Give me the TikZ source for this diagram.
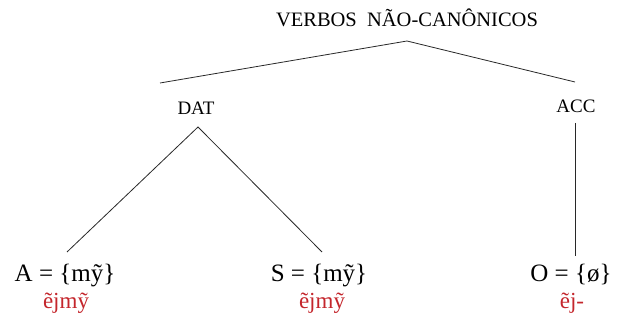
\documentclass[tikz,border=0pt]{standalone}
\usepackage{fontspec}
\setmainfont{Liberation Serif}
\definecolor{redtxt}{RGB}{196,38,44}
\definecolor{linec}{RGB}{40,40,40}
\begin{document}
\begin{tikzpicture}[x=1pt,y=1pt,
  lbl/.style={anchor=base,inner sep=0pt,font=\fontsize{19}{22}\selectfont},
  leaf/.style={anchor=base,inner sep=0pt,font=\fontsize{25}{30}\selectfont},
  form/.style={anchor=base,inner sep=0pt,text=redtxt,font=\fontsize{23}{28}\selectfont},
  branch/.style={draw=linec,line width=0.8pt}]
\useasboundingbox (0,0) rectangle (619,-320);
\node[lbl,font=\fontsize{20.5}{23}\selectfont] (title) at (407,-27) {VERBOS\ \ NÃO-CANÔNICOS};
\node[lbl] (dat) at (196,-115) {DAT};
\node[lbl] (acc) at (576,-113) {ACC};
\node[leaf] (a) at (65,-282) {A = \{mỹ\}};
\node[leaf] (s) at (319,-282) {S = \{mỹ\}};
\node[leaf] (o) at (571,-282) {O = \{ø\}};
\node[form] (fa) at (66,-309) {ẽjmỹ};
\node[form] (fs) at (322,-309) {ẽjmỹ};
\node[form] (fo) at (572,-309) {ẽj-};
\coordinate (tapex) at (407,-41);
\coordinate (tl) at (160,-83);
\coordinate (tr) at (575,-82);
\coordinate (dapex) at (198,-127);
\coordinate (al) at (67,-252);
\coordinate (sr) at (322,-252);
\coordinate (atop) at (575,-123);
\coordinate (obot) at (575,-256);
\draw[branch] (tl) -- (tapex) -- (tr);
\draw[branch] (al) -- (dapex) -- (sr);
\draw[branch] (atop) -- (obot);
\end{tikzpicture}
\end{document}
